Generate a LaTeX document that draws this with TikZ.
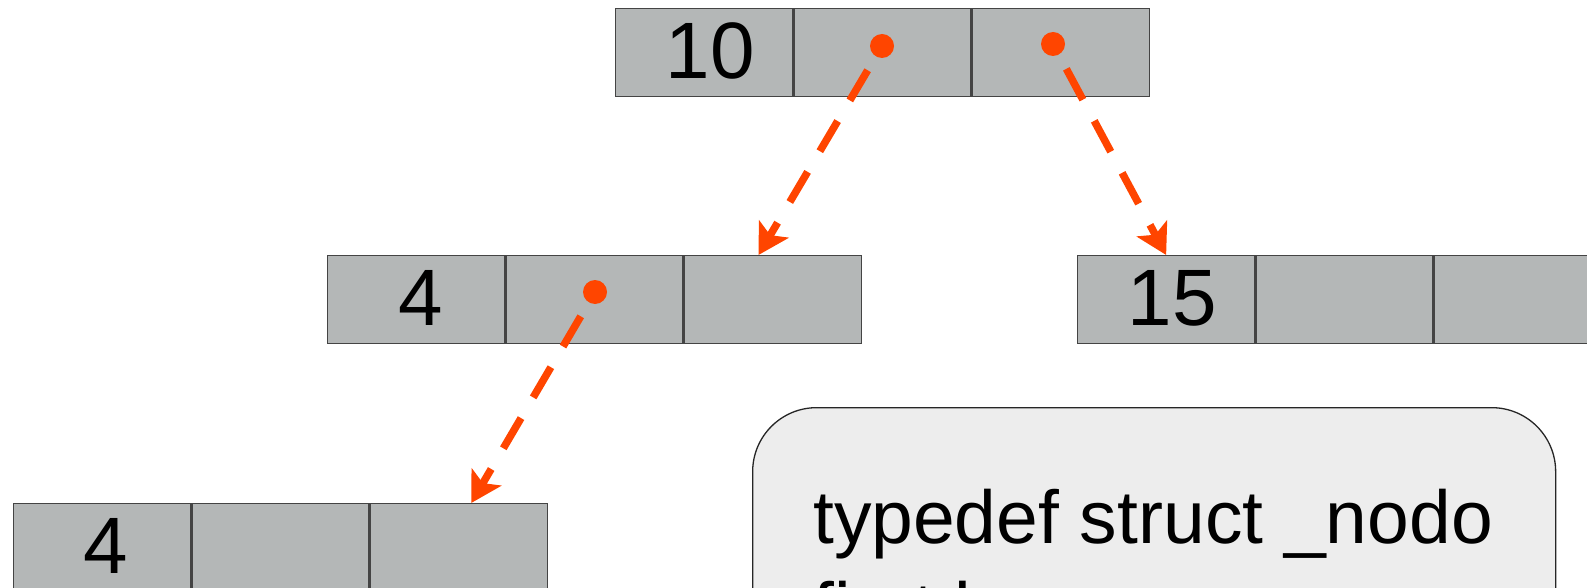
\documentclass[tikz,border=0pt]{standalone}
\usepackage{fontspec}
\setmainfont{Liberation Sans}
\usetikzlibrary{arrows.meta,calc}
\definecolor{cellgray}{RGB}{180,183,183}
\definecolor{ptr}{RGB}{255,69,0}
\definecolor{boxgray}{RGB}{237,237,237}
\definecolor{edgegray}{RGB}{68,68,68}
\begin{document}
\begin{tikzpicture}[x=1pt,y=-1pt,
  cell/.style={draw=edgegray, line width=1.3pt, fill=cellgray,
    minimum width=177pt, minimum height=88pt, inner sep=0pt,
    anchor=north west, font=\fontsize{80}{90}\selectfont,
    text height=57pt, text depth=6pt},
  dot/.style={circle, fill=ptr, minimum size=24pt, inner sep=0pt},
  ptrarrow/.style={draw=ptr, line width=7.5pt, dash pattern=on 35pt off 24pt,
    -{Stealth[length=30pt,width=34pt,inset=7pt]}, shorten <=16pt},
  codebox/.style={draw=black!85, line width=1.3pt, fill=boxgray,
    rounded corners=64pt, minimum width=803pt, minimum height=300pt,
    anchor=north west, inner sep=0pt},
  codetext/.style={anchor=base west, inner sep=0pt,
    font=\fontsize{75}{92}\selectfont}]
\useasboundingbox (0,0) rectangle (1587,588);
\clip (0,0) rectangle (1587,588);
% top node
\node[cell] (n1a) at (615,8) {\kern12pt 10};
\node[cell] (n1b) at (n1a.north east) {};
\node[cell] (n1c) at (n1b.north east) {};
% left child
\node[cell] (n2a) at (327,255) {\kern10pt 4};
\node[cell] (n2b) at (n2a.north east) {};
\node[cell] (n2c) at (n2b.north east) {};
% right child
\node[cell] (n3a) at (1077,255) {\kern12pt 15};
\node[cell] (n3b) at (n3a.north east) {};
\node[cell] (n3c) at (n3b.north east) {};
% grandchild
\node[cell] (n4a) at (13,503) {\kern8pt 4};
\node[cell] (n4b) at (n4a.north east) {};
\node[cell] (n4c) at (n4b.north east) {};
% code box
\node[codebox] (cb) at (752,407) {};
\node[codetext] (code1) at (813,543) {typedef struct \_nodo};
\node[codetext] (code2) at (813,635) {first k};
% pointers
\node[dot] (d1) at (882,46) {};
\node[dot] (d2) at (1053,44) {};
\node[dot] (d3) at (595,292) {};
\coordinate (t1) at ($(n2c.north west)!0.42!(n2c.north east)$);
\coordinate (t2) at (n3a.north);
\coordinate (t3) at ($(n4c.north west)!0.57!(n4c.north east)$);
\draw[ptrarrow] (d1) -- (t1);
\draw[ptrarrow] (d2) -- (t2);
\draw[ptrarrow] (d3) -- (t3);
\end{tikzpicture}
\end{document}
